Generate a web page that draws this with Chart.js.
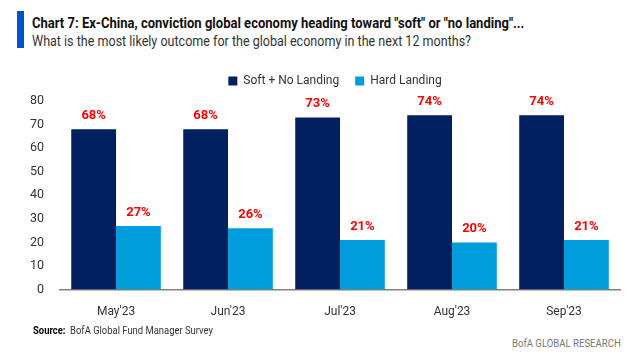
<!DOCTYPE html>
<html>
<head>
<meta charset="utf-8">
<script src="https://cdn.jsdelivr.net/npm/chart.js@4.4.0/dist/chart.umd.min.js"></script>
<style>
  html,body{margin:0;padding:0;background:#fff;}
  body{width:629px;height:361px;position:relative;overflow:hidden;font-family:Roboto,"Open Sans",sans-serif;}
  #bar{position:absolute;left:17px;top:11px;width:7px;height:37px;background:#0052cc;}
  .t{position:absolute;left:32px;white-space:nowrap;transform-origin:0 0;line-height:16px;}
  #title{top:15px;font-size:15px;font-weight:bold;color:#111;transform:scaleX(0.868);}
  #sub{top:34px;font-size:14.5px;color:#333;transform:scaleX(0.865);}
  #src{left:33px;top:322px;font-size:11.5px;color:#333;transform:scaleX(0.82);}
  #src b{color:#000;}
  #brand{position:absolute;left:512px;top:337px;font-size:11px;line-height:14px;color:#777;white-space:nowrap;transform-origin:0 0;transform:scaleX(0.87);}
  #c{position:absolute;left:0;top:0;}
</style>
</head>
<body>
<div id="bar"></div>
<div id="title" class="t">Chart 7: Ex-China, conviction global economy heading toward "soft" or "no landing"...</div>
<div id="sub" class="t">What is the most likely outcome for the global economy in the next 12 months?</div>
<canvas id="c" width="629" height="332"></canvas>
<div id="src" class="t"><b>Source:</b>&nbsp; BofA Global Fund Manager Survey</div>
<div id="brand">BofA GLOBAL RESEARCH</div>
<script>
const months = ["May'23","Jun'23","Jul'23","Aug'23","Sep'23"];
const softNoLanding = [68,68,73,74,74];
const hardLanding = [27,26,21,20,21];
const yTicks = [0,10,20,30,40,50,60,70,80];

const font = 'Roboto,"Open Sans",sans-serif';

// red % labels above each bar
const valueLabels = {
  id:'valueLabels',
  afterDatasetsDraw(chart){
    const ctx = chart.ctx;
    ctx.save();
    ctx.fillStyle = '#ff0000';
    ctx.font = 'bold 13px ' + font;
    ctx.textAlign = 'center';
    ctx.textBaseline = 'bottom';
    chart.data.datasets.forEach((ds,i)=>{
      chart.getDatasetMeta(i).data.forEach((bar,j)=>{
        ctx.fillText(ds.data[j] + '%', bar.x, bar.y - 7);
      });
    });
    ctx.restore();
  }
};

// more room under the legend, and nudge it right over the plot
const legendGap = {
  id:'legendGap',
  beforeInit(chart){
    const fit = chart.legend.fit;
    chart.legend.fit = function(){ fit.call(this); this.height += 4; };
  },
  afterLayout(chart){
    chart.legend.left += 14;
    chart.legend.right += 14;
  }
};

new Chart(document.getElementById('c'),{
  type:'bar',
  data:{
    labels:months,
    datasets:[
      {label:'Soft + No Landing',data:softNoLanding,backgroundColor:'#002060'},
      {label:'Hard Landing',data:hardLanding,backgroundColor:'#009ddc'}
    ]
  },
  options:{
    responsive:false,
    animation:false,
    categoryPercentage:0.8,
    barPercentage:1,
    layout:{padding:{left:22,right:9,top:59,bottom:6}},
    plugins:{
      legend:{
        align:'center',
        labels:{boxWidth:9,boxHeight:9,color:'#333',font:{family:font,size:12},padding:16}
      },
      tooltip:{enabled:false}
    },
    scales:{
      x:{
        grid:{display:false},
        border:{color:'#808080',width:1.5},
        ticks:{color:'#333',font:{family:font,size:12},padding:7}
      },
      y:{
        min:0,max:80,
        afterBuildTicks(axis){ axis.ticks = yTicks.map(v=>({value:v})); },
        grid:{display:false},
        border:{display:false},
        ticks:{color:'#333',font:{family:font,size:12.5},padding:8}
      }
    }
  },
  plugins:[valueLabels,legendGap]
});
</script>
</body>
</html>
